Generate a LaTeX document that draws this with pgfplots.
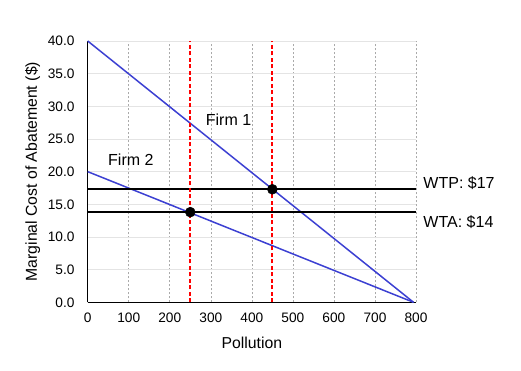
\documentclass[border=0pt]{standalone}
\usepackage{pgfplots}
\pgfplotsset{compat=1.18}
\usepackage{fontspec}
\setmainfont{Liberation Sans}
\definecolor{lineblue}{RGB}{60,64,210}
\definecolor{hgrid}{RGB}{228,228,228}
\definecolor{vgrid}{RGB}{170,170,170}
\begin{document}
\begin{tikzpicture}
\begin{axis}[
  at={(0,0)}, anchor=south west,
  scale only axis, width=328.3pt, height=261.3pt,
  xmin=0, xmax=800, ymin=0, ymax=40,
  axis x line*=bottom, axis y line*=left,
  axis line style={black, line width=1pt},
  xtick={0,100,...,800},
  ytick={0,5,...,40},
  xmajorgrids=true, ymajorgrids=true,
  x grid style={vgrid, dash pattern=on 2pt off 2pt, line width=0.6pt},
  y grid style={hgrid, line width=0.8pt},
  major tick length=0pt,
  tick style={draw=none},
  /pgf/number format/assume math mode=true,
  y tick label style={/pgf/number format/fixed, /pgf/number format/fixed zerofill, /pgf/number format/precision=1, font=\fontsize{13.7}{16}\selectfont, inner sep=0pt, anchor=east, xshift=-13pt},
  x tick label style={font=\fontsize{13.7}{16}\selectfont, inner sep=0pt, anchor=north, yshift=-10pt},
  xlabel={Pollution},
  ylabel={Marginal Cost of Abatement (\$)},
  label style={font=\fontsize{15.8}{18}\selectfont},
  xlabel style={at={(axis description cs:0.5,0)}, anchor=center, yshift=-40.7pt},
  ylabel style={at={(axis description cs:0,0.5)}, anchor=center, yshift=55pt},
  clip=false,
]
% Firm 1 and Firm 2 MAC curves
\addplot[lineblue, line width=1.5pt] coordinates {(0,40) (794,0)};
\addplot[lineblue, line width=1.5pt] coordinates {(0,20) (794,0)};
% WTP and WTA lines
\addplot[black, line width=2pt] coordinates {(0,17.3) (800,17.3)};
\addplot[black, line width=2pt] coordinates {(0,13.8) (800,13.8)};
% red dashed verticals
\addplot[red, line width=2pt, dash pattern=on 4pt off 2.5pt] coordinates {(250,0) (250,40)};
\addplot[red, line width=2pt, dash pattern=on 4pt off 2.5pt] coordinates {(450,0) (450,40)};
% points
\addplot[only marks, mark=*, mark size=5pt, black] coordinates {(250,13.8) (450,17.3)};
% annotations
\node[anchor=west, font=\fontsize{16}{18}\selectfont, inner sep=0pt] at (axis cs:287.5,28) {Firm 1};
\node[anchor=west, font=\fontsize{16}{18}\selectfont, inner sep=0pt] at (axis cs:49.5,21.8) {Firm 2};
\node[anchor=west, font=\fontsize{16}{18}\selectfont, inner sep=0pt] at (axis cs:817.7,18.2) {WTP: \$17};
\node[anchor=west, font=\fontsize{16}{18}\selectfont, inner sep=0pt] at (axis cs:817.7,12.2) {WTA: \$14};
\end{axis}
\pgfresetboundingbox
\path (-87.7pt,-67.7pt) rectangle (433.3pt,302.3pt);
\end{tikzpicture}
\end{document}
